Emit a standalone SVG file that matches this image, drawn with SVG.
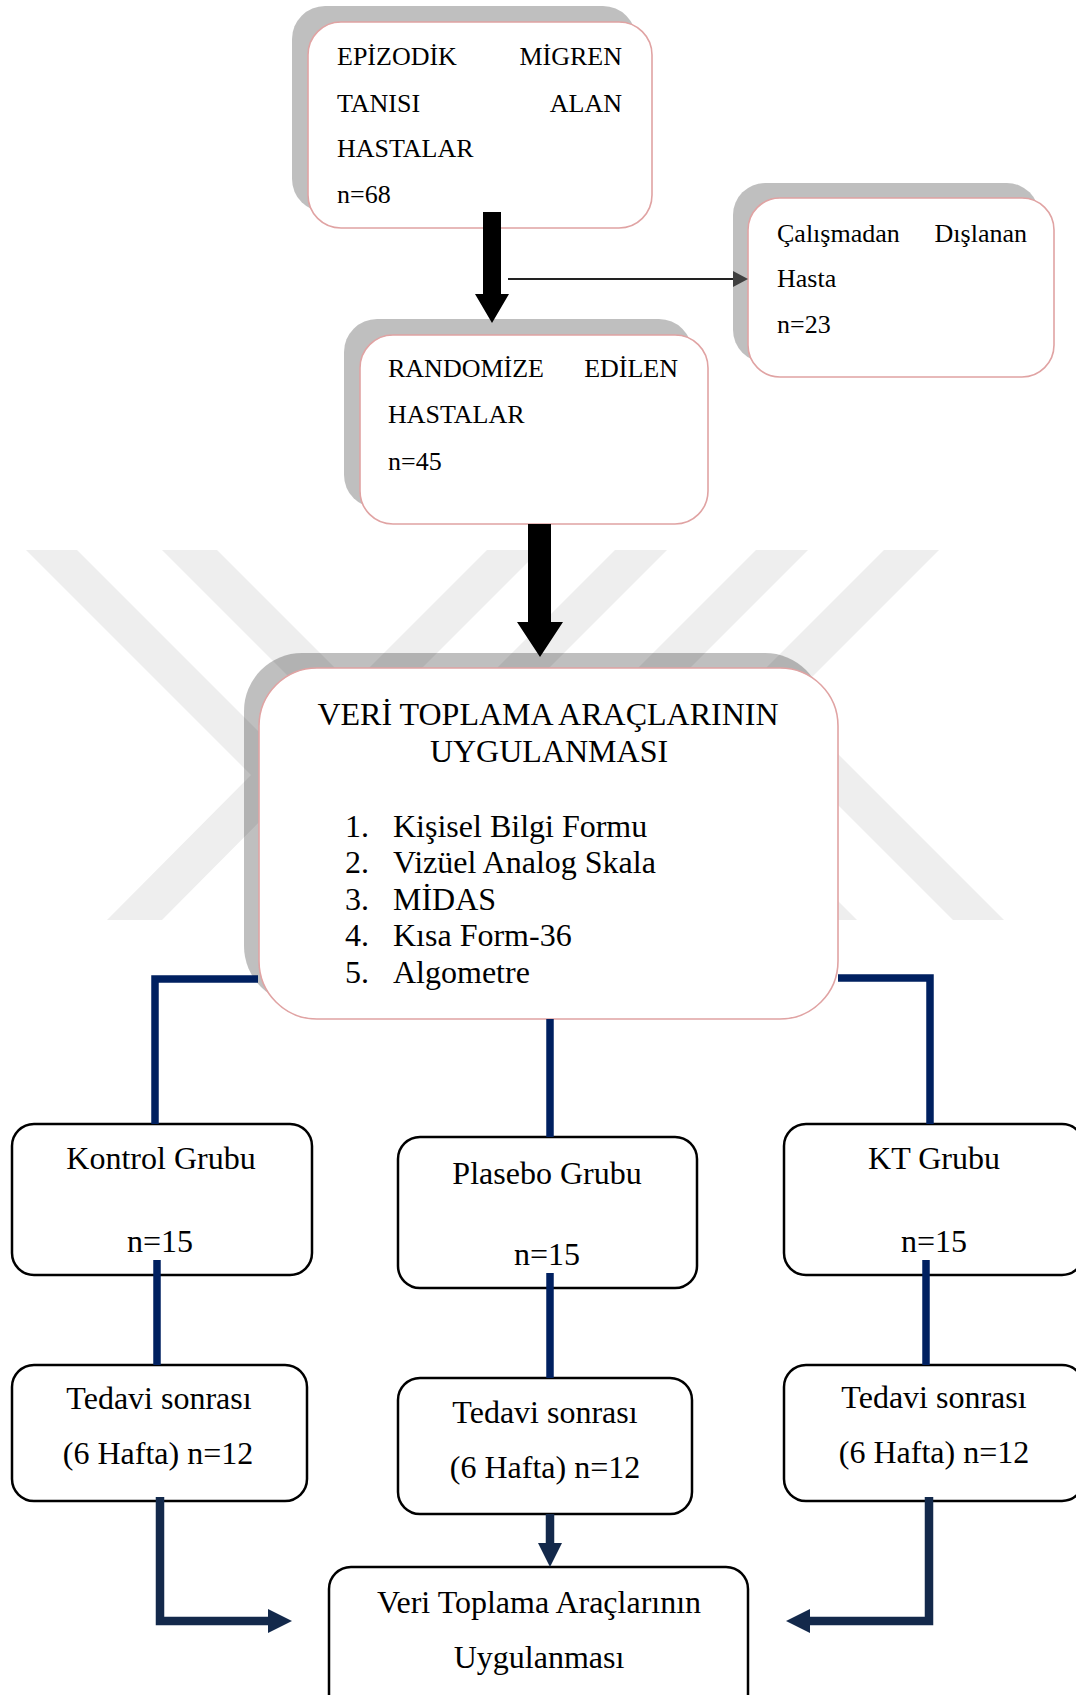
<svg xmlns="http://www.w3.org/2000/svg" width="1076" height="1695" viewBox="0 0 1076 1695">
<defs>
<style>
.wm{fill:#eeeeee}
.sh{fill:#000;fill-opacity:0.25}
.pb{fill:#fff;stroke:#e0a3a3;stroke-width:1.6}
.bb{fill:#fff;stroke:#000;stroke-width:2.5}
.t{font-family:"Liberation Serif","Times New Roman",serif;fill:#000}
.s26{font-size:26px}
.s32{font-size:32px}
.mid{text-anchor:middle}
.end{text-anchor:end}
.nv{fill:none;stroke:#002060;stroke-width:7.5;stroke-linejoin:miter}
.dn{fill:none;stroke:#13294b;stroke-width:8.5;stroke-linejoin:miter}
.dnf{fill:#13294b}
</style>
</defs>
<rect width="1076" height="1695" fill="#fff"/>
<g id="watermark">
<polygon class="wm" points="26,550 77,550 304,777 162,920 107,920 251,775"/>
<polygon class="wm" points="162,550 217,550 517,850 462,850"/>
<polygon class="wm" points="487,550 540,550 340,750 287,750"/>
<polygon class="wm" points="615,550 667,550 517,700 465,700"/>
<polygon class="wm" points="756,550 808,550 658,700 606,700"/>
<polygon class="wm" points="884,550 939,550 713,776 857,920 802,920 658,776"/>
<polygon class="wm" points="733,700 784,700 1004,920 953,920"/>
</g>
<g id="node-epizodik">
<rect class="sh" x="292" y="6" width="344" height="206" rx="33"/>
<rect class="pb" x="308" y="22" width="344" height="206" rx="33"/>
<text class="t s26" x="337" y="65">EPİZODİK</text>
<text class="t s26 end" x="622" y="65">MİGREN</text>
<text class="t s26" x="337" y="112">TANISI</text>
<text class="t s26 end" x="622" y="112">ALAN</text>
<text class="t s26" x="337" y="157">HASTALAR</text>
<text class="t s26" x="337" y="203">n=68</text>
</g>
<g id="node-dislanan">
<rect class="sh" x="733" y="183" width="306" height="179" rx="32"/>
<rect class="pb" x="748" y="198" width="306" height="179" rx="32"/>
<text class="t s26" x="777" y="242">Çalışmadan</text>
<text class="t s26 end" x="1027" y="242">Dışlanan</text>
<text class="t s26" x="777" y="287">Hasta</text>
<text class="t s26" x="777" y="333">n=23</text>
</g>
<g id="node-randomize">
<rect class="sh" x="344" y="319" width="348" height="189" rx="33"/>
<rect class="pb" x="360" y="335" width="348" height="189" rx="33"/>
<text class="t s26" x="388" y="377">RANDOMİZE</text>
<text class="t s26 end" x="678" y="377">EDİLEN</text>
<text class="t s26" x="388" y="423">HASTALAR</text>
<text class="t s26" x="388" y="470">n=45</text>
</g>
<g id="node-veri-toplama">
<rect class="sh" x="244" y="653" width="579" height="351" rx="58"/>
<rect class="pb" x="259" y="668" width="579" height="351" rx="58"/>
<text class="t s32 mid" x="548" y="725">VERİ TOPLAMA ARAÇLARININ</text>
<text class="t s32 mid" x="549" y="762">UYGULANMASI</text>
<text class="t s32" x="345" y="837">1.</text><text class="t s32" x="393" y="837">Kişisel Bilgi Formu</text>
<text class="t s32" x="345" y="873">2.</text><text class="t s32" x="393" y="873">Vizüel Analog Skala</text>
<text class="t s32" x="345" y="910">3.</text><text class="t s32" x="393" y="910">MİDAS</text>
<text class="t s32" x="345" y="946">4.</text><text class="t s32" x="393" y="946">Kısa Form-36</text>
<text class="t s32" x="345" y="983">5.</text><text class="t s32" x="393" y="983">Algometre</text>
</g>
<g id="node-kontrol">
<rect class="bb" x="12" y="1124" width="300" height="151" rx="22"/>
<text class="t s32 mid" x="161" y="1169">Kontrol Grubu</text>
<text class="t s32 mid" x="160" y="1252">n=15</text>
</g>
<g id="node-plasebo">
<rect class="bb" x="398" y="1137" width="299" height="151" rx="22"/>
<text class="t s32 mid" x="547" y="1184">Plasebo Grubu</text>
<text class="t s32 mid" x="547" y="1265">n=15</text>
</g>
<g id="node-kt">
<rect class="bb" x="784" y="1124" width="300" height="151" rx="22"/>
<text class="t s32 mid" x="934" y="1169">KT Grubu</text>
<text class="t s32 mid" x="934" y="1252">n=15</text>
</g>
<g id="node-tedavi-kontrol">
<rect class="bb" x="12" y="1365" width="295" height="136" rx="22"/>
<text class="t s32 mid" x="159" y="1409">Tedavi sonrası</text>
<text class="t s32 mid" x="158" y="1464">(6 Hafta) n=12</text>
</g>
<g id="node-tedavi-plasebo">
<rect class="bb" x="398" y="1378" width="294" height="136" rx="22"/>
<text class="t s32 mid" x="545" y="1423">Tedavi sonrası</text>
<text class="t s32 mid" x="545" y="1478">(6 Hafta) n=12</text>
</g>
<g id="node-tedavi-kt">
<rect class="bb" x="784" y="1365" width="300" height="136" rx="22"/>
<text class="t s32 mid" x="934" y="1408">Tedavi sonrası</text>
<text class="t s32 mid" x="934" y="1463">(6 Hafta) n=12</text>
</g>
<g id="node-final">
<rect class="bb" x="329" y="1567" width="419" height="160" rx="22"/>
<text class="t s32 mid" x="539" y="1613">Veri Toplama Araçlarının</text>
<text class="t s32 mid" x="539" y="1668">Uygulanması</text>
</g>
<g id="connectors">
<polygon fill="#000" points="483,212 501,212 501,294 509,294 492,323 475,294 483,294"/>
<line x1="508" y1="279" x2="736" y2="279" stroke="#222" stroke-width="2"/>
<polygon fill="#404040" points="733,271 748,279 733,287"/>
<polygon fill="#000" points="528,524 551,524 551,622 563,622 540,657 517,622 528,622"/>
<path class="nv" d="M155 1124 V979 H258"/>
<path class="nv" d="M930 1124 V978 H838"/>
<path class="nv" d="M550 1019 V1137"/>
<path class="nv" d="M157 1260 V1365"/>
<path class="nv" d="M550 1273 V1378"/>
<path class="nv" d="M926 1260 V1365"/>
<path class="dn" d="M160 1497 V1621 H270"/>
<polygon class="dnf" points="268,1609 292,1621 268,1633"/>
<path class="dn" d="M929 1497 V1621 H808"/>
<polygon class="dnf" points="810,1609 786,1621 810,1633"/>
<path class="dn" d="M550 1514 V1545"/>
<polygon class="dnf" points="538,1543 562,1543 550,1567"/>
</g>
</svg>
